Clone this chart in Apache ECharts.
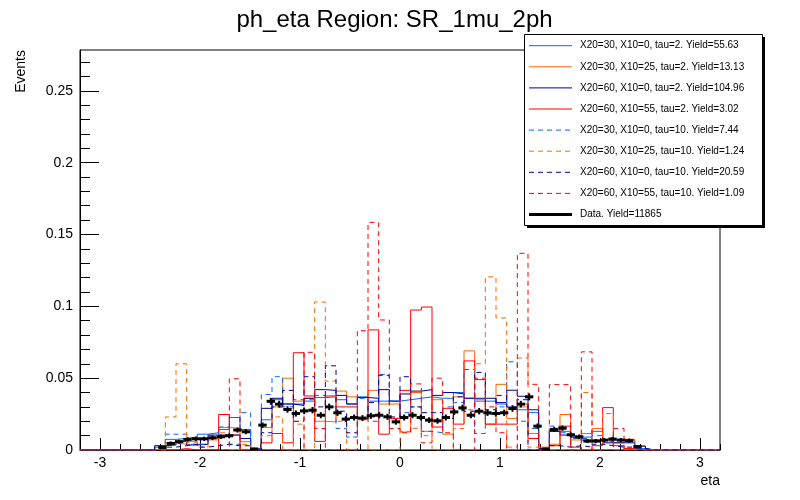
<!DOCTYPE html>
<html lang="en">
<head>
<meta charset="UTF-8">
<title>ph_eta Region: SR_1mu_2ph</title>
<script src="https://cdn.jsdelivr.net/npm/echarts@6/dist/echarts.min.js"></script>
<style>
    html, body { margin: 0; padding: 0; background: #fff; }
    #chart { width: 800px; height: 500px; }
</style>
</head>
<body>
<div id="chart"></div>
<script>
// binning of the signal histograms (first non-empty bin = histFirst)
var histLo = -3.2, histHi = 3.2, histBins = 60, histFirst = 7;
// binning of the data histogram
var dataLo = -2.5, dataHi = 2.5, dataBins = 60;
var dataYield = 11865;
var yMax = 0.2784;

var xTickLabels = [-3, -2, -1, 0, 1, 2, 3];
var yTickLabels = [0, 0.05, 0.1, 0.15, 0.2, 0.25];

var seriesNames = [
    'X20=30, X10=0, tau=2. Yield=55.63',
    'X20=30, X10=25, tau=2. Yield=13.13',
    'X20=60, X10=0, tau=2. Yield=104.96',
    'X20=60, X10=55, tau=2. Yield=3.02',
    'X20=30, X10=0, tau=10. Yield=7.44',
    'X20=30, X10=25, tau=10. Yield=1.24',
    'X20=60, X10=0, tau=10. Yield=20.59',
    'X20=60, X10=55, tau=10. Yield=1.09'
];
var dataName = 'Data. Yield=11865';

// normalised contents, bins 7..52
var x30_0_tau2 = [0.002, 0.0074, 0.008, 0.009, 0.011, 0.012, 0.0143, 0.0226, 0.0143, 0.001,
    0.021, 0.035, 0.032, 0.032, 0.034, 0.0365, 0.037, 0.035, 0.032, 0.037,
    0.034, 0.034, 0.034, 0.035, 0.036, 0.037, 0.036, 0.036, 0.040, 0.036,
    0.034, 0.034, 0.032, 0.030, 0.028, 0.026, 0.001, 0.013, 0.013, 0.009,
    0.009, 0.013, 0.007, 0.007, 0.007, 0.001];
var x30_25_tau2 = [0.001, 0.005, 0.004, 0.006, 0.004, 0.007, 0.0157, 0.015, 0.0058, 0,
    0.0157, 0.030, 0.050, 0.034, 0.036, 0.020, 0.0196, 0.041, 0.037, 0.021,
    0.0415, 0.032, 0.032, 0.0125, 0.040, 0.013, 0.035, 0.011, 0.037, 0.069,
    0.035, 0.018, 0.0457, 0.022, 0.030, 0.0115, 0.002, 0.004, 0.0247, 0.007,
    0.0115, 0.015, 0.007, 0.005, 0.0075, 0.0025];
var x60_0_tau2 = [0.003, 0.0035, 0.006, 0.0035, 0.004, 0.0104, 0.0104, 0.0104, 0.008, 0.0005,
    0.029, 0.036, 0.032, 0.031, 0.036, 0.042, 0.0415, 0.038, 0.032, 0.0365,
    0.036, 0.042, 0.034, 0.039, 0.041, 0.042, 0.038, 0.040, 0.039, 0.036,
    0.036, 0.036, 0.033, 0.0416, 0.0374, 0.028, 0.001, 0.013, 0.0104, 0.009,
    0.0069, 0.0069, 0.005, 0.005, 0.005, 0.0028];
var x60_55_tau2 = [0, 0, 0.001, 0, 0, 0, 0.0247, 0.0104, 0, 0,
    0.005, 0.0115, 0.005, 0.0677, 0.0376, 0.006, 0.0376, 0.030, 0.030, 0.022,
    0.0836, 0.011, 0.022, 0.0415, 0.0974, 0.0995, 0.016, 0.029, 0.018, 0.062,
    0.049, 0.018, 0.018, 0.018, 0.032, 0.008, 0, 0.003, 0.0166, 0.002,
    0, 0.003, 0.0295, 0.003, 0.001, 0];
var x30_0_tau10 = [0.001, 0.011, 0.011, 0.004, 0.004, 0.010, 0.016, 0.004, 0.026, 0,
    0.0386, 0.051, 0.030, 0.035, 0.035, 0.038, 0.030, 0.015, 0.009, 0.036,
    0.020, 0.0526, 0.034, 0.026, 0.030, 0.013, 0.012, 0.030, 0.033, 0.056,
    0.0115, 0.025, 0.030, 0.0614, 0.020, 0.015, 0, 0.0166, 0.012, 0.008,
    0.008, 0.010, 0.006, 0.007, 0.007, 0.001];
var x30_25_tau10 = [0, 0.023, 0.060, 0.005, 0.002, 0.008, 0.012, 0, 0.004, 0,
    0.010, 0.023, 0, 0.018, 0, 0.103, 0.048, 0.020, 0, 0.022,
    0, 0, 0, 0.013, 0.015, 0.010, 0, 0, 0.015, 0.028,
    0.060, 0.1205, 0.0919, 0.002, 0.064, 0.002, 0, 0, 0, 0,
    0.040, 0, 0.0254, 0, 0, 0];
var x60_0_tau10 = [0.002, 0.002, 0.003, 0.004, 0.002, 0.003, 0.004, 0.003, 0.003, 0,
    0.012, 0.030, 0.0415, 0.020, 0.051, 0.030, 0.0586, 0.027, 0.012, 0.022,
    0.033, 0.052, 0.023, 0.051, 0.030, 0.026, 0.026, 0.022, 0.037, 0.027,
    0.054, 0.028, 0.038, 0.030, 0.035, 0, 0, 0.003, 0.002, 0.003,
    0.002, 0.004, 0.003, 0.002, 0.002, 0.001];
var x60_55_tau10 = [0, 0, 0, 0, 0, 0, 0, 0.0496, 0, 0,
    0, 0, 0, 0, 0.068, 0.015, 0, 0, 0, 0.083,
    0.1584, 0.0905, 0.015, 0.012, 0.046, 0.005, 0.050, 0.012, 0, 0,
    0.050, 0.030, 0.012, 0, 0.1369, 0.0457, 0, 0.0455, 0.0455, 0,
    0.0683, 0, 0, 0.015, 0, 0];

// data, 60 bins from -2.5 to 2.5
var dataValues = [0, 0.0018, 0.0046, 0.0058, 0.0074, 0.0078, 0.0078, 0.0085, 0.0092, 0.0099,
    0.0139, 0.0127, 0.0007, 0.0173, 0.0339, 0.0319, 0.0282, 0.0254, 0.0272, 0.0277,
    0.0242, 0.0300, 0.0259, 0.0215, 0.0226, 0.0222, 0.0238, 0.0242, 0.0231, 0.0196,
    0.0226, 0.0242, 0.0226, 0.0208, 0.0203, 0.0226, 0.0265, 0.0293, 0.0242, 0.0270,
    0.0259, 0.0254, 0.0259, 0.0289, 0.0319, 0.0370, 0.0166, 0.0007, 0.0143, 0.0152,
    0.0106, 0.0092, 0.0062, 0.0062, 0.0069, 0.0076, 0.0069, 0.0065, 0.0023, 0];

var histValues = [x30_0_tau2, x30_25_tau2, x60_0_tau2, x60_55_tau2,
                  x30_0_tau10, x30_25_tau10, x60_0_tau10, x60_55_tau10];
var colors = ['#0a64f5', '#ff6600', '#000099', '#ff0000', '#0a64f5', '#ff6600', '#000099', '#ff0000'];
var dashed = [false, false, false, false, true, true, true, true];
var font = 'Liberation Sans';
var dashPattern = [5, 4];

// step outline points for one histogram
function histPoints(vals) {
    var w = (histHi - histLo) / histBins;
    var pts = [];
    for (var k = 0; k < histBins; k++) {
        var j = k - histFirst;
        var v = (j >= 0 && j < vals.length) ? vals[j] : 0;
        pts.push([histLo + k * w, v]);
    }
    pts.push([histHi, pts[pts.length - 1][1]]);
    return pts;
}

var series = histValues.map(function (vals, i) {
    return {
        name: seriesNames[i],
        type: 'line',
        step: 'end',
        data: histPoints(vals),
        showSymbol: false,
        symbol: 'none',
        lineStyle: { color: colors[i], width: 1, type: dashed[i] ? dashPattern : 'solid' },
        z: 2 + i
    };
});

var dataPoints = [];
var dw = (dataHi - dataLo) / dataBins;
dataValues.forEach(function (v, i) {
    if (v > 0) {
        var lo = dataLo + i * dw;
        dataPoints.push([lo, lo + dw, v, Math.sqrt(v * dataYield) / dataYield]);
    }
});

series.push({
    name: dataName,
    type: 'custom',
    data: dataPoints,
    encode: { x: [0, 1], y: 2 },
    z: 20,
    renderItem: function (params, api) {
        var lo = api.value(0), hi = api.value(1), v = api.value(2), e = api.value(3);
        var a = api.coord([lo, v]), b = api.coord([hi, v]);
        var mid = (lo + hi) / 2;
        var t = api.coord([mid, v + e]), u = api.coord([mid, v - e]);
        return {
            type: 'group',
            children: [
                { type: 'line', shape: { x1: a[0], y1: a[1], x2: b[0], y2: b[1] },
                  style: { stroke: '#000', lineWidth: 3 } },
                { type: 'line', shape: { x1: t[0], y1: t[1] - 1, x2: u[0], y2: u[1] + 1 },
                  style: { stroke: '#000', lineWidth: 2 } }
            ]
        };
    }
});

var xMinor = [], yMinor = [];
for (var q = -16; q <= 16; q++) xMinor.push(q * 0.2);
for (var r = 0; r <= 27; r++) yMinor.push(r * 0.01);

// legend box, ROOT style
var legendItems = seriesNames.map(function (n, i) {
    return { name: n, color: colors[i], dash: dashed[i], width: 1 };
});
legendItems.push({ name: dataName, color: '#000', dash: false, width: 3 });

var graphics = [
    { type: 'rect', shape: { x: 527, y: 37, width: 238, height: 191 }, style: { fill: '#000' }, z: 50 },
    { type: 'rect', shape: { x: 524.5, y: 34.5, width: 238, height: 191 },
      style: { fill: '#fff', stroke: '#000', lineWidth: 1 }, z: 51 }
];
legendItems.forEach(function (it, i) {
    var y = 45.7 + i * 21.1;
    graphics.push({ type: 'line', shape: { x1: 529, y1: y, x2: 572, y2: y },
        style: { stroke: it.color, lineWidth: it.width, lineDash: it.dash ? dashPattern : null }, z: 52 });
    graphics.push({ type: 'text', x: 580, y: y,
        style: { text: it.name, fill: '#000', font: '10px "' + font + '"', textVerticalAlign: 'middle' }, z: 52 });
});
graphics.push({ type: 'text', x: 394.5, y: 20,
    style: { text: 'ph_eta Region: SR_1mu_2ph', fill: '#000', font: '24px "' + font + '"',
             textAlign: 'center', textVerticalAlign: 'middle' } });
graphics.push({ type: 'text', x: 21.5, y: 50, rotation: Math.PI / 2,
    style: { text: 'Events', fill: '#000', font: '14px "' + font + '"', textAlign: 'right', textVerticalAlign: 'middle' } });
graphics.push({ type: 'text', x: 720, y: 481,
    style: { text: 'eta', fill: '#000', font: '14px "' + font + '"', textAlign: 'right', textVerticalAlign: 'middle' } });

var chart = echarts.init(document.getElementById('chart'));
chart.setOption({
    animation: false,
    backgroundColor: '#fff',
    grid: { left: 80, right: 80, top: 50, bottom: 50, show: true, borderColor: '#000', borderWidth: 1,
            backgroundColor: 'transparent' },
    xAxis: [{
        type: 'value', min: histLo, max: histHi, position: 'bottom',
        axisLine: { onZero: false, lineStyle: { color: '#000', width: 1 } },
        axisTick: { inside: true, length: 12, customValues: xTickLabels, lineStyle: { color: '#000' } },
        axisLabel: { customValues: xTickLabels, color: '#000', fontSize: 14, fontFamily: font, margin: 6 },
        splitLine: { show: false }
    }, {
        type: 'value', min: histLo, max: histHi, position: 'bottom',
        axisLine: { show: false, onZero: false },
        axisTick: { inside: true, length: 6, customValues: xMinor, lineStyle: { color: '#000' } },
        axisLabel: { show: false },
        splitLine: { show: false }
    }],
    yAxis: [{
        type: 'value', min: 0, max: yMax, position: 'left',
        axisLine: { show: true, onZero: false, lineStyle: { color: '#000', width: 1 } },
        axisTick: { show: true, inside: true, length: 19, customValues: yTickLabels, lineStyle: { color: '#000' } },
        axisLabel: { customValues: yTickLabels, color: '#000', fontSize: 14, fontFamily: font, margin: 7 },
        splitLine: { show: false }
    }, {
        type: 'value', min: 0, max: yMax, position: 'left', offset: 0,
        axisLine: { show: false, onZero: false },
        axisTick: { show: true, inside: true, length: 10, customValues: yMinor, lineStyle: { color: '#000' } },
        axisLabel: { show: false },
        splitLine: { show: false }
    }],
    series: series,
    graphic: graphics
});
</script>
</body>
</html>
